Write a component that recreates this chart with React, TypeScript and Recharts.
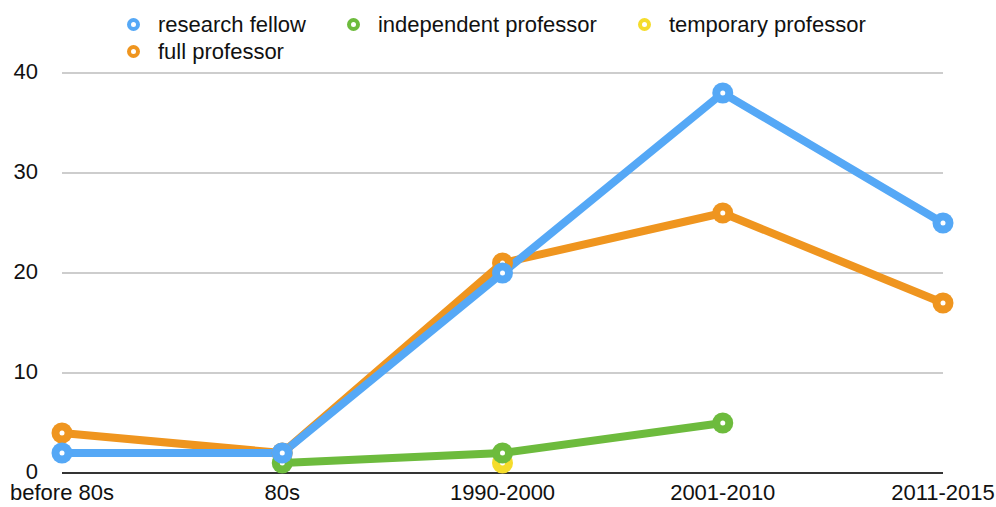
import { LineChart, Line, XAxis, YAxis, CartesianGrid } from 'recharts';

// periods on the x axis
const periods = ['before 80s', '80s', '1990-2000', '2001-2010', '2011-2015'];

// counts per period, null where there is no point
const researchFellow = [2, 2, 20, 38, 25];
const fullProfessor = [4, 2, 21, 26, 17];
const independentProfessor = [null, 1, 2, 5, null];
const temporaryProfessor = [null, null, 1, null, null];

const yTicks = [0, 10, 20, 30, 40];

const COLORS = {
  research: '#55a8f6',
  full: '#ef951f',
  independent: '#6dbb3d',
  temporary: '#f5dc2b',
};

const legendItems = [
  { name: 'research fellow', color: COLORS.research },
  { name: 'independent professor', color: COLORS.independent },
  { name: 'temporary professor', color: COLORS.temporary },
  { name: 'full professor', color: COLORS.full },
];

const data = periods.map((name, i) => ({
  name,
  research: researchFellow[i],
  full: fullProfessor[i],
  independent: independentProfessor[i],
  temporary: temporaryProfessor[i],
}));

const FONT = '"Liberation Sans", Arial, Helvetica, sans-serif';

function RingDot(props: any) {
  const { cx, cy, stroke, index, value } = props;
  if (cx == null || cy == null || value == null) return null;
  return (
    <g key={`dot-${index}`}>
      <circle cx={cx} cy={cy} r={10.5} fill={stroke} />
      <circle cx={cx} cy={cy} r={2.5} fill="#fff" />
    </g>
  );
}

// y labels sit a couple of px above the gridline like the original
function YTick(props: any) {
  const { x, y, payload } = props;
  return (
    <text x={x} y={y - 2} dy="0.355em" textAnchor="end" fill="#111" fontSize={22} fontFamily={FONT}>
      {payload.value}
    </text>
  );
}

function ChartLegend() {
  return (
    <div
      style={{
        position: 'absolute',
        left: 127,
        top: 11,
        width: 820,
        display: 'flex',
        flexWrap: 'wrap',
        fontFamily: FONT,
        fontSize: 22,
        lineHeight: '27px',
        color: '#111',
      }}
    >
      {legendItems.map((item) => (
        <div key={item.name} style={{ display: 'flex', alignItems: 'center', marginRight: 41 }}>
          <span
            style={{
              display: 'inline-block',
              width: 5,
              height: 5,
              borderRadius: '50%',
              border: `4px solid ${item.color}`,
              marginRight: 18,
            }}
          />
          <span>{item.name}</span>
        </div>
      ))}
    </div>
  );
}

export default function App() {
  return (
    <div style={{ position: 'absolute', left: 0, top: 0, width: 996, height: 507, background: '#fff' }}>
      <LineChart width={996} height={507} data={data} margin={{ top: 73, right: 53, left: 0, bottom: 0 }}>
        <CartesianGrid vertical={false} stroke="#bdbdbd" strokeWidth={1.5} />
        <XAxis
          dataKey="name"
          scale="point"
          padding={{ left: 0, right: 0 }}
          height={34}
          axisLine={{ stroke: '#000', strokeWidth: 1.5 }}
          tickLine={false}
          tickSize={0}
          tickMargin={11}
          tick={{ fill: '#111', fontSize: 22, fontFamily: FONT }}
          interval={0}
        />
        <YAxis
          domain={[0, 40]}
          ticks={yTicks}
          width={62}
          axisLine={false}
          tickLine={false}
          tickSize={0}
          tickMargin={24}
          tick={<YTick />}
        />
        <Line dataKey="temporary" stroke={COLORS.temporary} strokeWidth={8} dot={RingDot} isAnimationActive={false} />
        <Line dataKey="full" stroke={COLORS.full} strokeWidth={8} dot={RingDot} isAnimationActive={false} />
        <Line dataKey="independent" stroke={COLORS.independent} strokeWidth={8} dot={RingDot} isAnimationActive={false} />
        <Line dataKey="research" stroke={COLORS.research} strokeWidth={8} dot={RingDot} isAnimationActive={false} />
      </LineChart>
      <ChartLegend />
    </div>
  );
}
